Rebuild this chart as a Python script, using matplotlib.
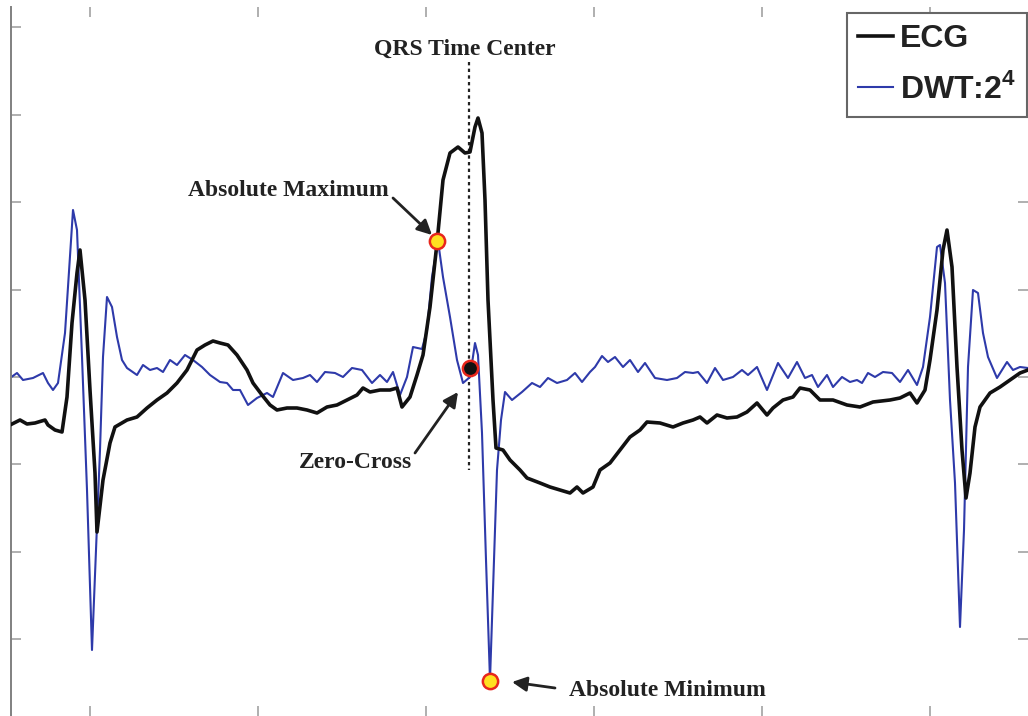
import matplotlib
matplotlib.use('Agg')
import matplotlib.pyplot as plt
import numpy as np

plt.rcParams['mathtext.fontset'] = 'custom'
plt.rcParams['mathtext.bf'] = 'Liberation Sans:bold'
plt.rcParams['mathtext.rm'] = 'Liberation Sans:bold'

# ECG trace (sample index, amplitude)
ecg_x = [10, 20, 27, 35, 45, 48, 55, 62, 67, 72, 77, 80, 85, 90, 95, 97, 103, 110, 115, 127,
         137, 147, 157, 167, 177, 187, 197, 205, 213, 220, 228, 237, 247, 253, 262, 270, 277,
         287, 297, 307, 317, 327, 337, 347, 357, 363, 370, 380, 390, 397, 402, 410, 417, 423,
         430, 437, 443, 450, 458, 465, 470, 475, 478, 482, 485, 488, 493, 496, 503, 510, 520,
         527, 540, 550, 560, 570, 577, 583, 593, 600, 610, 620, 630, 640, 647, 660, 673, 683,
         693, 700, 707, 717, 727, 737, 747, 757, 767, 773, 783, 793, 800, 810, 820, 833, 847,
         860, 873, 890, 900, 910, 917, 925, 930, 937, 943, 947, 952, 957, 962, 966, 970, 975,
         980, 990, 1000, 1010, 1020, 1028]
ecg_y = [-48, -43, -47, -46, -43, -48, -53, -55, -20, 54, 104, 127, 77, -13, -96, -155, -103,
         -66, -50, -43, -40, -31, -23, -16, -6, 7, 27, 32, 36, 34, 32, 22, 7, -6, -18, -28, -33,
         -31, -31, -33, -36, -30, -28, -23, -18, -11, -15, -13, -13, -11, -30, -20, 2, 22, 70,
         134, 197, 224, 230, 224, 225, 250, 259, 244, 177, 77, -23, -71, -73, -83, -93, -101,
         -106, -110, -113, -116, -110, -116, -110, -93, -86, -73, -60, -53, -45, -46, -50, -46,
         -43, -40, -46, -38, -41, -40, -35, -26, -38, -31, -23, -20, -11, -13, -23, -23, -28,
         -30, -25, -23, -21, -16, -26, -13, 17, 67, 127, 147, 110, 10, -73, -121, -96, -50,
         -30, -16, -10, -3, 4, 7]

# DWT scale 2^4 trace
dwt_x = [10, 17, 23, 33, 43, 48, 53, 58, 65, 70, 73, 77, 82, 87, 92, 96, 100, 103, 107, 112,
         117, 122, 127, 137, 143, 150, 157, 163, 170, 177, 185, 193, 202, 210, 220, 227, 233,
         240, 248, 257, 267, 273, 283, 293, 303, 310, 317, 325, 335, 343, 352, 362, 372, 380,
         387, 393, 400, 407, 413, 422, 427, 432, 438, 443, 450, 457, 463, 470, 475, 478, 482,
         486, 490, 494, 497, 501, 505, 512, 522, 532, 540, 548, 557, 567, 575, 582, 590, 595,
         602, 608, 615, 623, 630, 638, 645, 655, 667, 677, 685, 693, 698, 707, 715, 723, 733,
         742, 748, 757, 767, 778, 788, 797, 805, 812, 818, 827, 833, 842, 850, 857, 862, 868,
         875, 883, 892, 900, 908, 917, 923, 930, 937, 940, 945, 950, 955, 960, 964, 968, 973,
         978, 983, 988, 997, 1007, 1013, 1020, 1028]
dwt_y = [-1, 4, -3, -1, 4, -6, -13, -6, 44, 120, 167, 147, 20, -113, -273, -173, -73, 20, 80,
         70, 40, 17, 9, 2, 12, 7, 9, 5, 17, 12, 22, 17, 10, 2, -5, -6, -13, -13, -28, -21, -16,
         -20, 4, -3, -1, 2, -5, 5, 4, 0, 9, 7, -6, 2, -5, 5, -18, 0, 30, 28, 47, 100, 136, 100,
         60, 17, -6, 0, 34, 22, -56, -183, -303, -183, -93, -43, -15, -23, -15, -6, -10, -1, -6,
         -3, 4, -5, 5, 10, 21, 15, 20, 10, 17, 5, 14, -1, -3, -1, 5, 4, 5, -6, 9, -3, 0, 7, 2,
         10, -13, 14, -1, 15, -1, 2, -10, 2, -10, 0, -5, -3, -6, 4, 0, 5, 4, -5, 7, -8, 10, 60,
         130, 132, 94, -23, -106, -250, -153, 10, 87, 84, 44, 20, -1, 15, 7, 10, 9]

# feature points
max_pt = (437, 136)
zero_pt = (470, 9)
min_pt = (490, -304)
qrs_center = 469

fig = plt.figure(figsize=(10.28, 7.16), dpi=100)
ax = fig.add_axes([11 / 1028, 0, 1017 / 1028, 709 / 716])

ax.plot(ecg_x, ecg_y, color='#111111', lw=2.6, label='ECG', zorder=3)
ax.plot(dwt_x, dwt_y, color='#2e3aaa', lw=1.5, label=r'DWT:2$^{\mathbf{4}}$', zorder=2)

ax.plot([qrs_center, qrs_center], [315, -93], color='#222222', ls=(0, (1.5, 1.5)), lw=1.6,
        zorder=1)

ax.plot(*max_pt, 'o', ms=11, mfc='#ffe020', mec='#e8261c', mew=1.8, zorder=5)
ax.plot(*zero_pt, 'o', ms=11, mfc='#111111', mec='#e8261c', mew=1.8, zorder=5)
ax.plot(*min_pt, 'o', ms=11, mfc='#ffe020', mec='#e8261c', mew=1.8, zorder=5)

tfont = dict(family='Liberation Serif', weight='bold', size=17, color='#222222')
ax.text(465, 328, 'QRS Time Center', ha='center', va='center', **tfont)
ax.text(288, 186, 'Absolute Maximum', ha='center', va='center', **tfont)
ax.text(355, -86, 'Zero-Cross', ha='center', va='center', **tfont)
ax.text(667, -314, 'Absolute Minimum', ha='center', va='center', **tfont)

arw = dict(arrowstyle='-|>', color='#222222', lw=2, mutation_scale=22, shrinkA=0, shrinkB=0)
ax.annotate('', xy=(432, 142), xytext=(393, 179), arrowprops=arw)
ax.annotate('', xy=(458, -15), xytext=(415, -76), arrowprops=arw)
ax.annotate('', xy=(512, -305), xytext=(555, -311), arrowprops=arw)

ax.set_xlim(11, 1028)
ax.set_ylim(-339, 370)
ax.set_xticks([90, 258, 426, 594, 762, 930])
ax.set_yticks(np.arange(-3, 5) * 87.4)
ax.set_xticklabels([])
ax.set_yticklabels([])
ax.tick_params(direction='in', length=7, width=1.1, color='#9a9a9a',
               top=True, bottom=True, left=True, right=True)
for s in ['top', 'bottom', 'right']:
    ax.spines[s].set_visible(False)
ax.spines['left'].set_color('#808080')
ax.spines['left'].set_linewidth(1.4)

leg = ax.legend(loc='upper left', bbox_to_anchor=(847 / 1028, 1 - 13 / 716),
                bbox_transform=fig.transFigure, borderaxespad=0,
                prop=dict(family='Liberation Sans', weight='bold', size=23),
                handlelength=1.1, handletextpad=0.2, labelspacing=0.6,
                borderpad=0.35, fancybox=False, framealpha=1)
leg.get_frame().set_edgecolor('#666666')
leg.get_frame().set_linewidth(1.5)
for t in leg.get_texts():
    t.set_color('#222222')

plt.savefig('out.png', dpi=100)
